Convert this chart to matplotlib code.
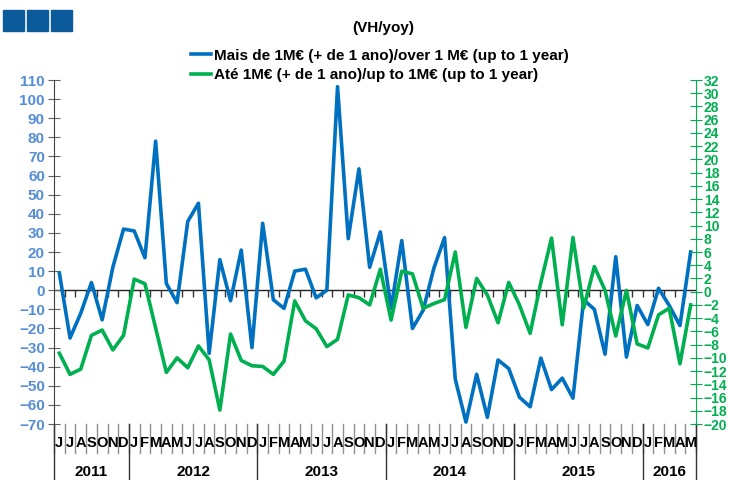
import matplotlib.pyplot as plt
import matplotlib.transforms as mtransforms
from matplotlib.patches import Rectangle
import numpy as np

plt.rcParams['font.family'] = ['Liberation Sans', 'DejaVu Sans']
plt.rcParams['font.weight'] = 'bold'

# monthly data, Jun 2011 .. May 2016
months = ['J', 'J', 'A', 'S', 'O', 'N', 'D'] + \
         ['J', 'F', 'M', 'A', 'M', 'J', 'J', 'A', 'S', 'O', 'N', 'D'] * 4 + \
         ['J', 'F', 'M', 'A', 'M']
years = ['2011', '2012', '2013', '2014', '2015', '2016']
months_per_year = [7, 12, 12, 12, 12, 5]

over_1m = [9, -25, -12, 4, -15.5, 12, 32, 31, 17, 78, 3.5, -6.5,
           36, 45.5, -33, 16, -5.5, 21, -30, 35, -5, -9.5, 10, 11,
           -4, 0, 106.5, 27, 63.5, 12, 30.5, -9.5, 26, -20, -10.5, 11.5,
           27.5, -46.5, -69, -44, -66.5, -36.5, -41, -56, -61, -35.5, -52, -46,
           -56.5, -5, -10, -33.5, 17.5, -35, -8, -18, 1, -8, -18.5, 20]
up_to_1m = [-9.3, -12.5, -11.7, -6.6, -5.8, -8.8, -6.6, 1.9, 1.2, -5.5, -12.2, -10,
            -11.5, -8.2, -10.3, -17.9, -6.4, -10.4, -11.2, -11.3, -12.5, -10.5, -1.4, -4.4,
            -5.6, -8.3, -7.2, -0.5, -0.9, -2, 3.4, -4.3, 3.1, 2.7, -2.5, -1.8,
            -1.2, 6, -5.4, 2, -0.5, -4.7, 1.4, -2, -6.3, 1.4, 8.1, -5,
            8.2, -2.5, 3.8, 0.2, -6.7, 0.2, -7.9, -8.5, -3.5, -2.5, -10.9, -2]

blue = '#0070c0'
green = '#00b050'
light_blue = '#558ed5'

fig = plt.figure(figsize=(7.29, 4.8), dpi=100)
ax = fig.add_axes([54 / 729, 1 - 424 / 480, 642 / 729, 344 / 480])
ax2 = ax.twinx()

x = np.arange(len(months))
l1, = ax.plot(x, over_1m, color=blue, lw=2.6, label='Mais de 1M€ (+ de 1 ano)/over 1 M€ (up to 1 year)')
l2, = ax2.plot(x, up_to_1m, color=green, lw=2.6, label='Até 1M€ (+ de 1 ano)/up to 1M€ (up to 1 year)')

ax.set_xlim(-0.5, len(months) - 0.5)
ax.set_ylim(-70, 110)
ax.set_yticks(np.arange(-70, 111, 10))
ax2.set_ylim(-20, 32)
ax2.set_yticks(np.arange(-20, 33, 2))

for s in ['top', 'bottom']:
    ax.spines[s].set_visible(False)
    ax2.spines[s].set_visible(False)
ax2.spines['left'].set_visible(False)
ax.spines['right'].set_visible(False)
ax.spines['left'].set_color('#404040')
ax2.spines['right'].set_color(green)

ax.tick_params(axis='y', direction='inout', length=9, color='#606060',
               labelcolor=light_blue, labelsize=11, pad=2)
ax2.tick_params(axis='y', direction='inout', length=9, color=green,
                labelcolor=green, labelsize=10, pad=1)
ax.set_xticks([])

# zero line with month ticks below it
ax.axhline(0, color='#222222', lw=1, zorder=1)
bounds = np.arange(len(months) + 1) - 0.5
ax.vlines(bounds[1:-1], -3.6, 0, color='#333333', lw=1, zorder=1)

# category axis below the plot
trans = mtransforms.blended_transform_factory(ax.transData, ax.transAxes)
for b in bounds:
    ax.plot([b, b], [0, -0.085], color='#909090', lw=1, transform=trans, clip_on=False)
for i, m in enumerate(months):
    ax.text(i, -0.055, m, transform=trans, ha='center', va='center', fontsize=10.5)

start = -0.5
for yr, n in zip(years, months_per_year):
    ax.plot([start, start], [0, -0.17], color='#333333', lw=1, transform=trans, clip_on=False)
    ax.text(start + n / 2, -0.14, yr, transform=trans, ha='center', va='center', fontsize=11)
    start += n
ax.plot([start, start], [0, -0.17], color='#333333', lw=1, transform=trans, clip_on=False)

# title and legend
fig.text(383 / 729, 1 - 28 / 480, '(VH/yoy)', ha='center', va='center', fontsize=11)
fig.legend(handles=[l1, l2], loc='upper center', bbox_to_anchor=(380 / 729, 1 - 41 / 480),
           frameon=False, fontsize=11, handlelength=1.3, handletextpad=0.2,
           labelspacing=0.35, borderpad=0)

# logo squares
for k in range(3):
    fig.patches.append(Rectangle(((3 + 24 * k) / 729, 1 - 31 / 480), 21 / 729, 21 / 480,
                                 transform=fig.transFigure, color='#0b5a9c'))

fig.savefig('out.png', dpi=100)
